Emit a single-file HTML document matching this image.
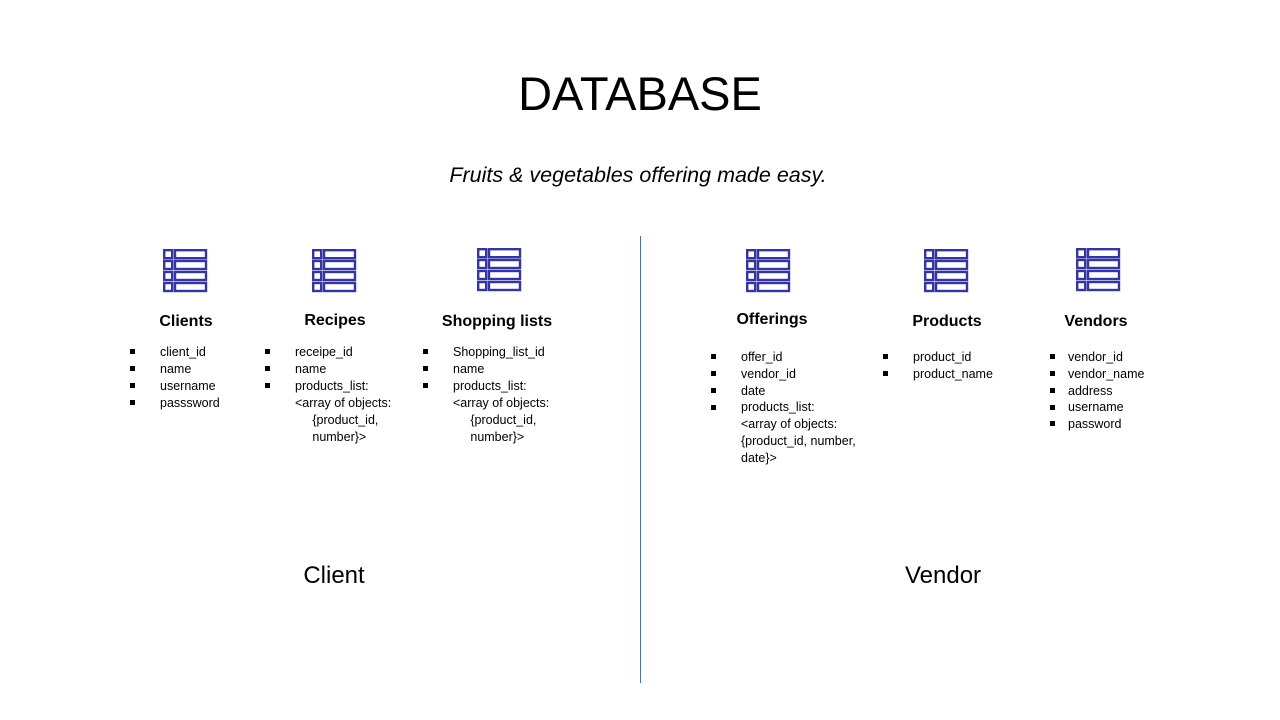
<!DOCTYPE html><html><head><style>
body{margin:0;width:1280px;height:720px;background:#fff;position:relative;overflow:hidden;font-family:"Liberation Sans",sans-serif;color:#000}
.a{position:absolute;white-space:nowrap}
.t{font-weight:bold;font-size:16px;transform:translateX(-50%)}
.l{font-size:12.5px;line-height:17px}
.b{position:absolute;width:5px;height:5px;background:#000}
svg{position:absolute}
</style></head><body>
<div class="a" style="left:640px;top:66px;font-size:47px;transform:translateX(-50%)">DATABASE</div>
<div class="a" style="left:638px;top:163px;font-size:21.5px;font-style:italic;transform:translateX(-50%)">Fruits &amp; vegetables offering made easy.</div>
<div style="position:absolute;left:640px;top:236px;width:1px;height:447px;background:#4472c4"></div>
<div class="a" style="left:334px;top:562px;font-size:24px;transform:translateX(-50%)">Client</div>
<div class="a" style="left:943px;top:562px;font-size:24px;transform:translateX(-50%)">Vendor</div>

<svg width="0" height="0"><defs><g id="ic" fill="none" stroke="#3333aa" stroke-width="2.4"><rect x="1.2" y="1.2" width="8" height="8"/><rect x="12" y="1.2" width="31" height="8"/><rect x="1.2" y="12" width="8" height="8"/><rect x="12" y="12" width="31" height="8"/><rect x="1.2" y="23" width="8" height="8"/><rect x="12" y="23" width="31" height="8"/><rect x="1.2" y="34" width="8" height="8"/><rect x="12" y="34" width="31" height="8"/></g></defs></svg>
<svg style="left:163px;top:249px" width="45" height="45"><use href="#ic"/></svg>
<svg style="left:312px;top:249px" width="45" height="45"><use href="#ic"/></svg>
<svg style="left:477px;top:248px" width="45" height="45"><use href="#ic"/></svg>
<svg style="left:746px;top:249px" width="45" height="45"><use href="#ic"/></svg>
<svg style="left:924px;top:249px" width="45" height="45"><use href="#ic"/></svg>
<svg style="left:1076px;top:248px" width="45" height="45"><use href="#ic"/></svg>

<div class="a t" style="left:186px;top:313px">Clients</div>
<div class="a t" style="left:335px;top:312px">Recipes</div>
<div class="a t" style="left:497px;top:313px">Shopping lists</div>
<div class="a t" style="left:772px;top:311px">Offerings</div>
<div class="a t" style="left:947px;top:313px">Products</div>
<div class="a t" style="left:1096px;top:313px">Vendors</div>

<div class="b" style="left:130px;top:349px"></div><div class="b" style="left:130px;top:366px"></div><div class="b" style="left:130px;top:383px"></div><div class="b" style="left:130px;top:400px"></div>
<div class="a l" style="left:160px;top:344px">client_id<br>name<br>username<br>passsword</div>
<div class="b" style="left:265px;top:349px"></div><div class="b" style="left:265px;top:366px"></div><div class="b" style="left:265px;top:383px"></div>
<div class="a l" style="left:295px;top:344px">receipe_id<br>name<br>products_list:<br>&lt;array of objects:<br>&nbsp;&nbsp;&nbsp;&nbsp;&nbsp;{product_id,<br>&nbsp;&nbsp;&nbsp;&nbsp;&nbsp;number}&gt;</div>
<div class="b" style="left:423px;top:349px"></div><div class="b" style="left:423px;top:366px"></div><div class="b" style="left:423px;top:383px"></div>
<div class="a l" style="left:453px;top:344px">Shopping_list_id<br>name<br>products_list:<br>&lt;array of objects:<br>&nbsp;&nbsp;&nbsp;&nbsp;&nbsp;{product_id,<br>&nbsp;&nbsp;&nbsp;&nbsp;&nbsp;number}&gt;</div>
<div class="b" style="left:711px;top:354px"></div><div class="b" style="left:711px;top:371px"></div><div class="b" style="left:711px;top:388px"></div><div class="b" style="left:711px;top:405px"></div>
<div class="a l" style="left:741px;top:349px;line-height:16.8px">offer_id<br>vendor_id<br>date<br>products_list:<br>&lt;array of objects:<br>{product_id, number,<br>date}&gt;</div>
<div class="b" style="left:883px;top:354px"></div><div class="b" style="left:883px;top:371px"></div>
<div class="a l" style="left:913px;top:349px">product_id<br>product_name</div>
<div class="b" style="left:1050px;top:354px"></div><div class="b" style="left:1050px;top:371px"></div><div class="b" style="left:1050px;top:388px"></div><div class="b" style="left:1050px;top:405px"></div><div class="b" style="left:1050px;top:421px"></div>
<div class="a l" style="left:1068px;top:349px;line-height:16.8px">vendor_id<br>vendor_name<br>address<br>username<br>password</div>
</body></html>
